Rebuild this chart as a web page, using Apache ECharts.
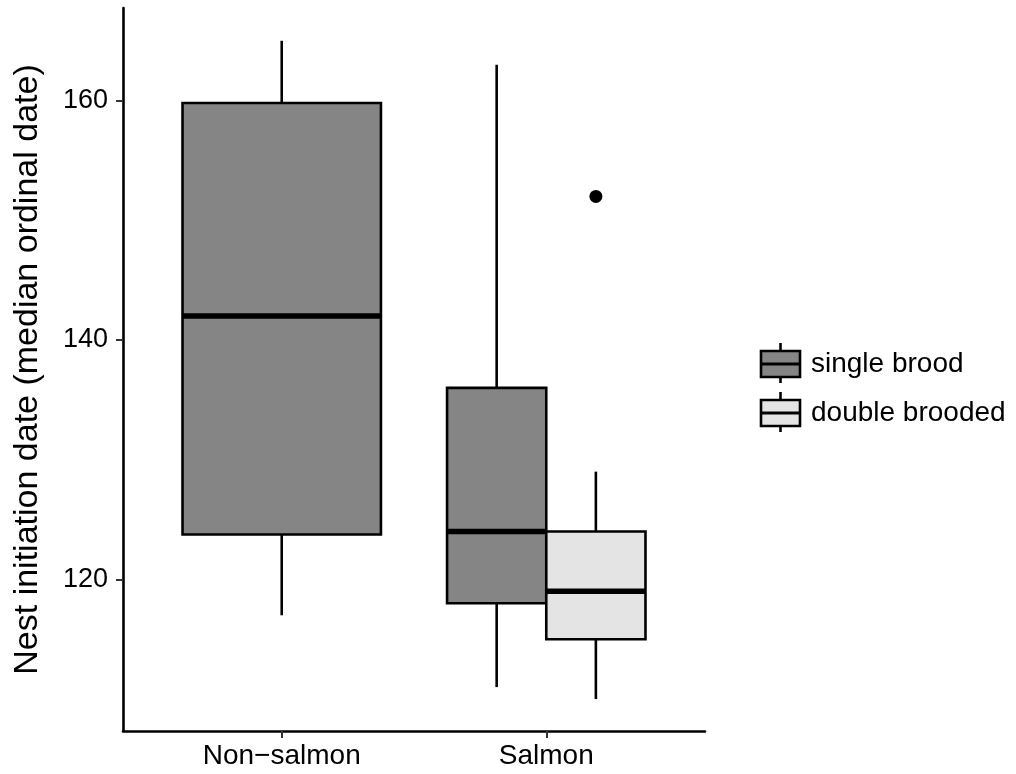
<!DOCTYPE html>
<html>
<head>
<meta charset="utf-8">
<script src="https://cdn.jsdelivr.net/npm/echarts@6/dist/echarts.min.js"></script>
<style>
  html, body { margin: 0; padding: 0; background: #fff; }
  #chart { width: 1016px; height: 774px; }
</style>
</head>
<body>
<div id="chart"></div>
<script>
// ---- data ----
const categories = ['Non\u2212salmon', 'Salmon'];
const groups = ['single brood', 'double brooded'];
// [min, Q1, median, Q3, max] per category (null = no data)
const singleBrood = [[117, 123.75, 142, 159.8, 165], [111, 118, 124, 136, 163]];
const doubleBrooded = [null, [110, 115, 119, 124, 129]];
// outliers: [categoryIndex, value]
const singleOutliers = [];
const doubleOutliers = [[1, 152]];
const yTicks = [120, 140, 160];

const groupFill = ['#858585', '#E4E4E4'];
const groupSeries = [singleBrood, doubleBrooded];
const groupOutliers = [singleOutliers, doubleOutliers];

const BOX_W = 0.75;
const LW = 2.6;
function groupsIn(ci) {
  return groupSeries.map((s, gi) => s[ci] ? gi : -1).filter(g => g >= 0);
}
function boxCenter(ci, gi) {
  const present = groupsIn(ci);
  const n = present.length;
  const k = present.indexOf(gi);
  const w = BOX_W / n;
  return { x: ci + 1 - BOX_W / 2 + w * (k + 0.5), w: w };
}

const series = [];
groupSeries.forEach((arr, gi) => {
  const data = [];
  arr.forEach((v, ci) => {
    if (!v) return;
    const c = boxCenter(ci, gi);
    data.push([c.x, c.w, v[0], v[1], v[2], v[3], v[4]]);
  });
  series.push({
    type: 'custom',
    name: groups[gi],
    data: data,
    z: 2 + gi,
    renderItem: function (params, api) {
      const x = api.value(0), w = api.value(1);
      const lo = api.value(2), q1 = api.value(3), md = api.value(4), q3 = api.value(5), hi = api.value(6);
      const pL = api.coord([x - w / 2, q3]);
      const pR = api.coord([x + w / 2, q1]);
      const pC = api.coord([x, md]);
      const pHi = api.coord([x, hi]);
      const pLo = api.coord([x, lo]);
      const lineStyle = { stroke: '#000', lineWidth: LW };
      return {
        type: 'group',
        children: [
          { type: 'line', shape: { x1: pC[0], y1: pHi[1], x2: pC[0], y2: pL[1] }, style: lineStyle },
          { type: 'line', shape: { x1: pC[0], y1: pR[1], x2: pC[0], y2: pLo[1] }, style: lineStyle },
          { type: 'rect', shape: { x: pL[0], y: pL[1], width: pR[0] - pL[0], height: pR[1] - pL[1] },
            style: { fill: groupFill[gi], stroke: '#000', lineWidth: LW } },
          { type: 'line', shape: { x1: pL[0], y1: pC[1], x2: pR[0], y2: pC[1] }, style: { stroke: '#000', lineWidth: 5.5 } }
        ]
      };
    }
  });
  const od = groupOutliers[gi].map(o => [boxCenter(o[0], gi).x, o[1]]);
  if (od.length) {
    series.push({
      type: 'scatter', data: od, symbol: 'circle', symbolSize: 13, z: 10,
      itemStyle: { color: '#000', opacity: 1 }, silent: true
    });
  }
});

const font = 'Liberation Sans, Arial, Helvetica, sans-serif';

// legend drawn as graphic keys
const legendGraphics = [];
groups.forEach((g, gi) => {
  const cy = 364 + gi * 49;
  legendGraphics.push(
    { type: 'line', shape: { x1: 780.5, y1: cy - 21, x2: 780.5, y2: cy + 19 }, style: { stroke: '#000', lineWidth: LW } },
    { type: 'rect', shape: { x: 761, y: cy - 13, width: 39, height: 26 }, style: { fill: groupFill[gi], stroke: '#000', lineWidth: LW } },
    { type: 'line', shape: { x1: 761, y1: cy, x2: 800, y2: cy }, style: { stroke: '#000', lineWidth: 3 } },
    { type: 'text', x: 811, y: cy, style: { text: g, font: '28px ' + font, fill: '#000', verticalAlign: 'middle', align: 'left' } }
  );
});

const chart = echarts.init(document.getElementById('chart'), null, { renderer: 'canvas' });
chart.setOption({
  backgroundColor: '#fff',
  animation: false,
  grid: { left: 123, top: 8, right: 311, bottom: 43, containLabel: false },
  xAxis: {
    type: 'value', min: 0.4, max: 2.6,
    splitLine: { show: false },
    axisLine: { show: true, lineStyle: { color: '#000', width: LW } },
    axisTick: { show: true, length: 7, lineStyle: { color: '#333', width: 2 }, customValues: [1, 2] },
    axisLabel: { customValues: [1, 2], margin: 11, fontSize: 28, color: '#000', fontFamily: font,
      formatter: v => categories[Math.round(v) - 1] || '' }
  },
  yAxis: {
    type: 'value', min: 107.33, max: 167.74,
    name: 'Nest initiation date (median ordinal date)',
    nameLocation: 'middle', nameGap: 78,
    nameTextStyle: { fontSize: 34, color: '#000', fontFamily: font },
    splitLine: { show: false },
    axisLine: { show: true, lineStyle: { color: '#000', width: LW } },
    axisTick: { show: true, length: 7, lineStyle: { color: '#333', width: 2 }, customValues: yTicks },
    axisLabel: { customValues: yTicks, margin: 15, fontSize: 27, color: '#000', fontFamily: font }
  },
  series: series,
  graphic: legendGraphics
});
</script>
</body>
</html>
